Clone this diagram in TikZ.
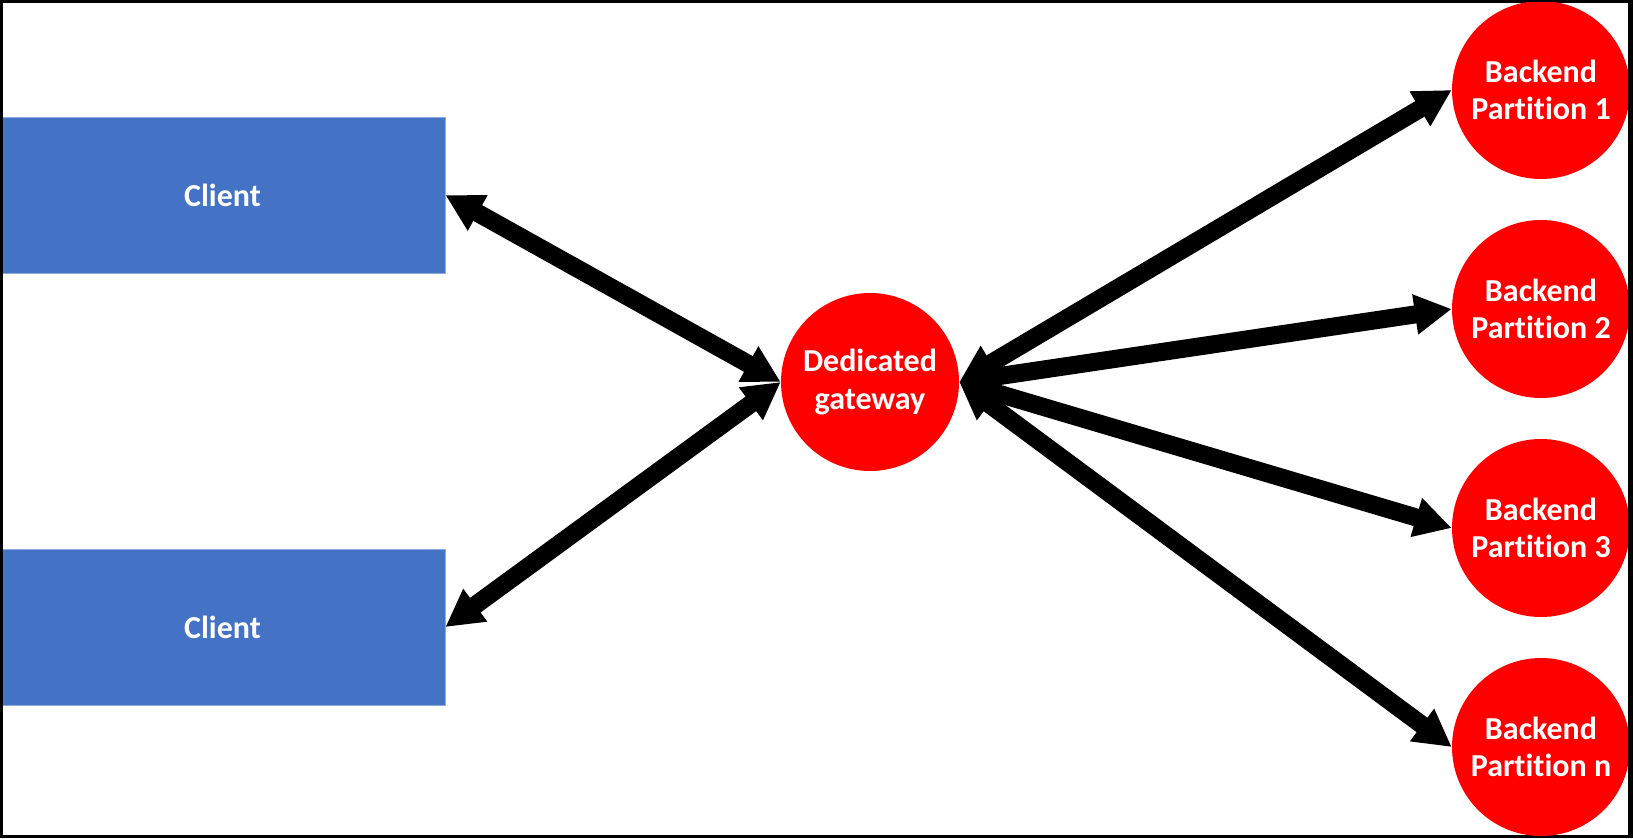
\documentclass[tikz,border=0pt]{standalone}
\usepackage{fontspec}
\setmainfont{Carlito}[Ligatures={NoCommon}]
\usetikzlibrary{arrows.meta}
\definecolor{clientblue}{HTML}{4472C4}
\definecolor{clientedge}{HTML}{8FAADC}
\definecolor{nodered}{HTML}{FF0000}
\tikzset{
  labelfont/.style={font=\fontsize{24}{28}\selectfont\bfseries},
  clientbox/.style={rectangle, fill=clientblue, draw=clientedge, line width=0.6pt,
    minimum width=333.75pt, minimum height=117pt, inner sep=0pt, text=white, labelfont},
  redcircle/.style={circle, fill=nodered, minimum size=133.5pt, inner sep=0pt,
    text=white, align=center, labelfont},
  conn/.style={line width=13.5pt, black,
    {Triangle[length=27.75pt,width=28.5pt]}-{Triangle[length=27.75pt,width=28.5pt]}}
}
\begin{document}
\begin{tikzpicture}[x=0.75pt,y=-0.75pt]
  \useasboundingbox (0,0) rectangle (1633,838);
  \fill[black] (0,0) rectangle (1633,838);
  \fill[white] (3,3) rectangle (1628,835);
  \begin{scope}
    \clip (3,3) rectangle (1628,835);
    \node[clientbox] (c1) at (222.5,195) {Client};
    \node[clientbox] (c2) at (222.5,627) {Client};
    \node[redcircle] (gw) at (870,382) {Dedicated\\gateway};
    \node[redcircle] (b1) at (1541,90) {Backend\\Partition 1};
    \node[redcircle] (b2) at (1541,309) {Backend\\Partition 2};
    \node[redcircle] (b3) at (1541,528) {Backend\\Partition 3};
    \node[redcircle] (bn) at (1541,747) {Backend\\Partition n};
    \draw[conn] (c1.east) -- (gw.west);
    \draw[conn] (c2.east) -- (gw.west);
    \draw[conn] (gw.east) -- (b1.west);
    \draw[conn] (gw.east) -- (b2.west);
    \draw[conn] (gw.east) -- (b3.west);
    \draw[conn] (gw.east) -- (bn.west);
  \end{scope}
\end{tikzpicture}
\end{document}
